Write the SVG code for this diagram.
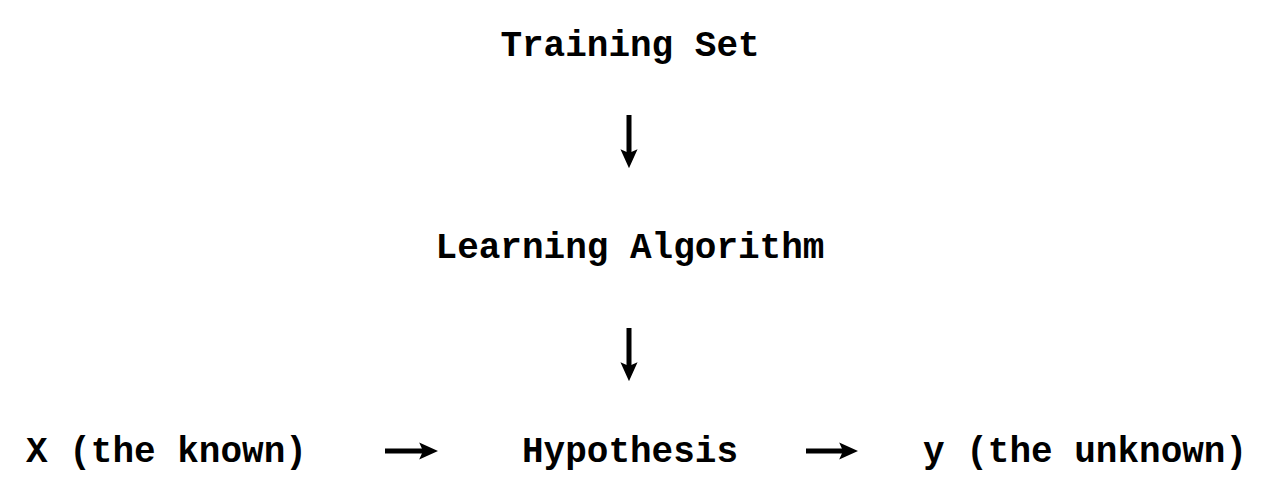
<svg xmlns="http://www.w3.org/2000/svg" width="1269" height="501" viewBox="0 0 1269 501">
<defs>
<style>
.t{font-family:"Liberation Mono","Courier New",monospace;font-weight:bold;font-size:36px;fill:#000}
.c{text-anchor:middle}
.ln{stroke:#000;stroke-width:5;fill:none}
</style>
<marker id="ah" viewBox="0 0 10 10" refX="2" refY="5" markerWidth="19" markerHeight="19" markerUnits="userSpaceOnUse" orient="auto">
<path d="M0,0.5 L10,5 L0,9.5 L2,5 Z" fill="#000"/>
</marker>
</defs>
<rect width="1269" height="501" fill="#fff"/>
<g id="training-set"><text class="t c" x="630" y="56">Training Set</text></g>
<g id="learning-algorithm"><text class="t c" x="630" y="258">Learning Algorithm</text></g>
<g id="x-known"><text class="t" x="26" y="462">X (the known)</text></g>
<g id="hypothesis"><text class="t c" x="630" y="462">Hypothesis</text></g>
<g id="y-unknown"><text class="t" x="923" y="462">y (the unknown)</text></g>
<g id="connectors">
<line class="ln" x1="629" y1="115" x2="629" y2="153" marker-end="url(#ah)"/>
<line class="ln" x1="629" y1="328" x2="629" y2="366" marker-end="url(#ah)"/>
<line class="ln" x1="385" y1="451" x2="423" y2="451" marker-end="url(#ah)"/>
<line class="ln" x1="806" y1="451" x2="843" y2="451" marker-end="url(#ah)"/>
</g>
</svg>
